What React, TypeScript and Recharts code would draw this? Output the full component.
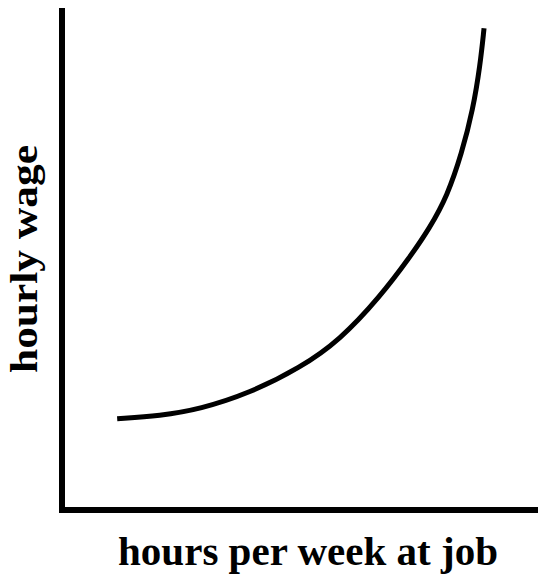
import { Label, Line, LineChart, XAxis, YAxis } from 'recharts';

// hours per week (x) and hourly wage (y), arbitrary units
const hours = [1.14, 2.03, 2.85, 3.88, 4.92, 5.74, 6.57, 7.19, 7.6, 7.96, 8.26, 8.49, 8.64, 8.72];
const wage = [1.81, 1.87, 2.0, 2.32, 2.82, 3.37, 4.23, 5.02, 5.6, 6.23, 7.08, 7.94, 8.83, 9.56];

const xLabel = 'hours per week at job';
const yLabel = 'hourly wage';

const data = hours.map((x, i) => ({ x, y: wage[i] }));

const labelFont = {
  fontFamily: '"Liberation Serif", "Times New Roman", serif',
  fontWeight: 700,
  fill: '#000',
};

function XTitle(props: any) {
  const vb = props.viewBox || {};
  const cx = vb.x + vb.width / 2 + 4;
  return (
    <text
      x={cx}
      y={vb.y + 55}
      textAnchor="middle"
      fontSize={41}
      textLength={380}
      lengthAdjust="spacingAndGlyphs"
      style={labelFont}
    >
      {xLabel}
    </text>
  );
}

function YTitle(props: any) {
  const vb = props.viewBox || {};
  const cy = vb.y + vb.height / 2 + 1;
  const bx = vb.x + vb.width - 25;
  return (
    <text
      x={bx}
      y={cy}
      transform={`rotate(-90, ${bx}, ${cy})`}
      textAnchor="middle"
      fontSize={38}
      textLength={228}
      lengthAdjust="spacingAndGlyphs"
      style={labelFont}
    >
      {yLabel}
    </text>
  );
}

export default function App() {
  return (
    <LineChart
      width={546}
      height={575}
      data={data}
      margin={{ top: 6, right: 0, left: 61, bottom: 64 }}
      style={{ marginLeft: -8, marginTop: -8 }}
    >
      <XAxis
        type="number"
        dataKey="x"
        domain={[0, 10]}
        height={1}
        tick={false}
        tickLine={false}
        axisLine={{ stroke: '#000', strokeWidth: 6, strokeLinecap: 'square' }}
      >
        <Label content={<XTitle />} />
      </XAxis>
      <YAxis
        type="number"
        domain={[0, 10]}
        width={1}
        tick={false}
        tickLine={false}
        axisLine={{ stroke: '#000', strokeWidth: 6 }}
      >
        <Label content={<YTitle />} />
      </YAxis>
      <Line
        type="basis"
        dataKey="y"
        stroke="#000"
        strokeWidth={5}
        dot={false}
        isAnimationActive={false}
      />
    </LineChart>
  );
}
